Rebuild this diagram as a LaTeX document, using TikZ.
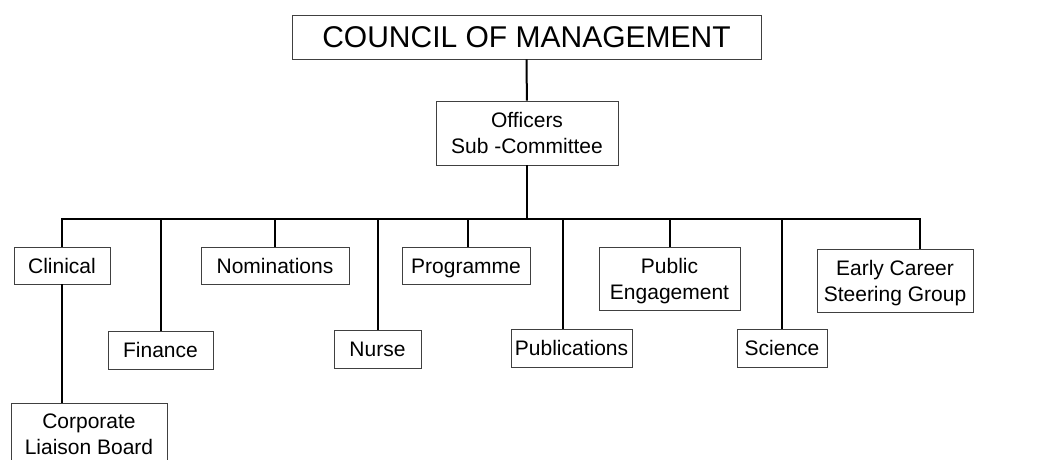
\documentclass[tikz,border=0pt]{standalone}
\usepackage{fontspec}
\setmainfont{Liberation Sans}
\usepackage{tikz}

\begin{document}
\begin{tikzpicture}[x=1pt,y=-1pt,
    box/.style={draw=black!75,line width=0.9pt,inner sep=0pt,align=center,
                text depth=0,font=\fontsize{21}{26}\selectfont},
    one/.style={box,text height=15},
    link/.style={line width=2pt}]
    \useasboundingbox (0,0) rectangle (1051,459);

    \node[box,minimum width=469,minimum height=44,font=\fontsize{30}{34}\selectfont,
          text height=21]
                     (council)  at (526.5,37)  {COUNCIL OF MANAGEMENT};
    \node[box,minimum width=182,minimum height=64] (officers) at (527,133)   {Officers\\Sub -Committee};

    \node[one,minimum width=96,minimum height=37]  (clinical) at (62,265.5)  {Clinical};
    \node[box,minimum width=156,minimum height=63] (corp)     at (89,434.5)  {Corporate\\Liaison Board};
    \node[one,minimum width=105,minimum height=38] (finance)  at (160.5,350) {Finance};
    \node[one,minimum width=148,minimum height=37] (nom)      at (275,265.5) {Nominations};
    \node[one,minimum width=87,minimum height=38]  (nurse)    at (377.5,349) {Nurse};
    \node[one,minimum width=128,minimum height=37] (prog)     at (466,265.5) {Programme};
    \node[one,minimum width=121,minimum height=38] (pubs)     at (571.5,348) {Publications};
    \node[box,minimum width=141,minimum height=63] (public)   at (669.5,278.5) {Public\\Engagement};
    \node[one,minimum width=90,minimum height=38]  (science)  at (782,348)   {Science};
    \node[box,minimum width=156,minimum height=63] (early)    at (895,280.5) {Early Career\\Steering Group};

    \coordinate (bus) at (527,219);

    \draw[link] (council) -- (officers);
    \draw[link] (officers) -- (bus);
    \draw[link] (bus) -| (clinical);
    \draw[link] (bus) -| (finance);
    \draw[link] (bus) -| (nom);
    \draw[link] (bus) -| (nurse);
    \draw[link] (bus) -| ([xshift=2]prog.north);
    \draw[link] (bus) -| ([xshift=-8.5]pubs.north);
    \draw[link] (bus) -| (public);
    \draw[link] (bus) -| (science);
    \draw[link] (bus) -| ([xshift=25]early.north);
    \draw[link] (clinical) -- (clinical.south |- corp.north);

  \end{tikzpicture}
\end{document}
